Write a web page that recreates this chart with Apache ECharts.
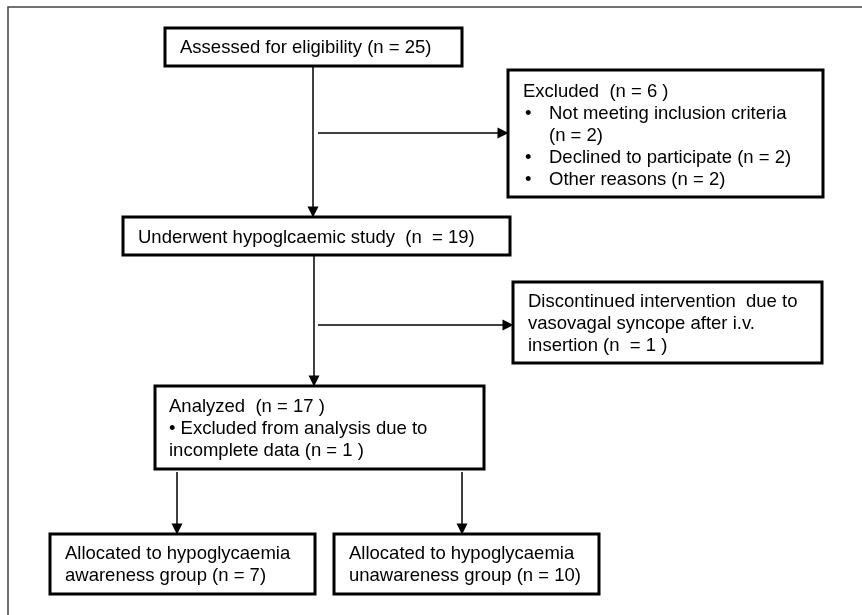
<!DOCTYPE html>
<html>
<head>
<meta charset="utf-8">
<script src="https://cdn.jsdelivr.net/npm/echarts@6/dist/echarts.min.js"></script>
<style>
	html, body { margin: 0; padding: 0; background: #fff; }
	#chart { width: 862px; height: 615px; }
</style>
</head>
<body>
<div id="chart"></div>
<script>
/*
 流程图文字 (每个框一组, 以 '•' 开头的行画成项目符号)
 */
var BOX_TEXTS = [
	['Assessed for eligibility (n = 25)'],
	['Excluded  (n = 6 )', '\u2022Not meeting inclusion criteria', ' (n = 2)', '\u2022Declined to participate (n = 2)', '\u2022Other reasons (n = 2)'],
	['Underwent hypoglcaemic study  (n  = 19)'],
	['Discontinued intervention  due to', 'vasovagal syncope after i.v.', 'insertion (n  = 1 )'],
	['Analyzed  (n = 17 )', '\u2022 Excluded from analysis due to', 'incomplete data (n = 1 )'],
	['Allocated to hypoglycaemia', 'awareness group (n = 7)'],
	['Allocated to hypoglycaemia', 'unawareness group (n = 10)']
];
// 框位置 [x0, y0, x1, y1, 文字x, 首行中心y]
var BOX_LAYOUT = [
	[165, 28, 462, 66, 180, 48],
	[508, 70, 823, 197, 523, 92],
	[123, 217, 510, 255, 138, 238],
	[513, 282, 822, 363, 528, 302],
	[155, 386, 484, 469, 169, 407],
	[50, 534, 315, 594, 65, 554],
	[334, 534, 599, 594, 349, 554]
];
// 箭头 [起点, 终点(箭头中心)]
var ARROWS = [
	[[313, 66], [313, 212]],
	[[318, 133], [503, 133]],
	[[314, 255], [314, 381]],
	[[318, 325], [508, 325]],
	[[177, 472], [177, 529]],
	[[462, 472], [462, 529]]
];
var FRAME = [[8, 615], [8, 7], [862, 7]];

var FONT = '"Liberation Sans", Arial, sans-serif';
var FONT_SIZE = 18.5;
var LINE_H = 22;

function buildBoxData() {
	var data = [];
	for(var i=0; i<BOX_LAYOUT.length; i++) {
		data.push(BOX_LAYOUT[i].concat([i]));
	}
	return data;
}

function textStyle(x, y, text) {
	return {
		x: x, y: y, text: text,
		font: FONT_SIZE + 'px ' + FONT,
		fill: '#000',
		lineHeight: LINE_H,
		verticalAlign: 'top'
	};
}

function renderBox(params, api) {
	var p0 = api.coord([api.value(0), api.value(1)]);
	var p1 = api.coord([api.value(2), api.value(3)]);
	var tp = api.coord([api.value(4), api.value(5)]);
	var lines = BOX_TEXTS[api.value(6)];
	var children = [{
		type: 'rect',
		shape: { x: p0[0], y: p0[1], width: p1[0]-p0[0], height: p1[1]-p0[1] },
		style: { fill: '#fff', stroke: '#000', lineWidth: 3 }
	}];
	for(var i=0; i<lines.length; i++) {
		var line = lines[i];
		var y = tp[1] - LINE_H/2 + i*LINE_H;
		var x = tp[0];
		if(line.charAt(0) == '\u2022' && line.charAt(1) != ' ') {
			children.push({ type: 'text', style: textStyle(x + 2, y, '\u2022') });
			line = line.substr(1);
			x += 26;
		} else if(line.charAt(0) == ' ') {
			line = line.substr(1);
			x += 26;
		}
		children.push({ type: 'text', style: textStyle(x, y, line) });
	}
	return { type: 'group', children: children };
}

var arrowData = [];
for(var i=0; i<ARROWS.length; i++) {
	arrowData.push({ coords: ARROWS[i] });
}

var chart = echarts.init(document.getElementById('chart'));
chart.setOption({
	animation: false,
	grid: { left: 0, right: 0, top: 0, bottom: 0 },
	xAxis: { type: 'value', min: 0, max: 862, show: false },
	yAxis: { type: 'value', min: 0, max: 615, inverse: true, show: false },
	series: [{
		type: 'lines',
		coordinateSystem: 'cartesian2d',
		polyline: true,
		silent: true,
		lineStyle: { color: '#444', width: 1.5, opacity: 1 },
		data: [{ coords: FRAME }],
		z: 1
	}, {
		type: 'lines',
		coordinateSystem: 'cartesian2d',
		silent: true,
		symbol: ['none', 'triangle'],
		symbolSize: [10, 11],
		lineStyle: { color: '#000', width: 1.5, opacity: 1 },
		data: arrowData,
		z: 2
	}, {
		type: 'custom',
		coordinateSystem: 'cartesian2d',
		silent: true,
		renderItem: renderBox,
		data: buildBoxData(),
		z: 3
	}]
});
</script>
</body>
</html>
